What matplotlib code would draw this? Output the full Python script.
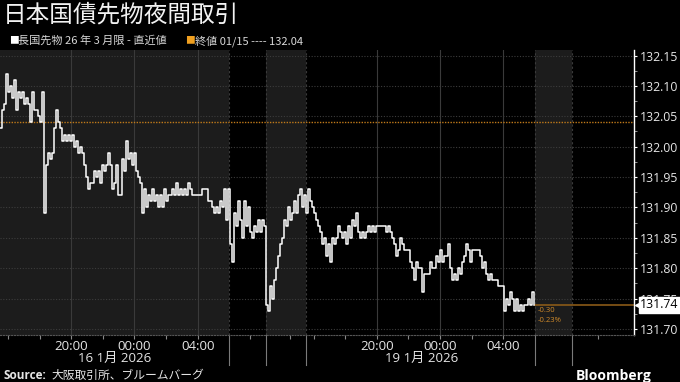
import numpy as np
import matplotlib
matplotlib.use("Agg")
import matplotlib.pyplot as plt
from matplotlib.ticker import FixedLocator, MultipleLocator

plt.rcParams["font.family"] = ["Open Sans", "Noto Sans CJK JP", "DejaVu Sans"]

# JGB 10y futures (Mar 2026 contract), night session, sampled every ~7.6 min
prices = [
    132.03, 132.06, 132.07, 132.12, 132.09, 132.10, 132.08, 132.11, 132.06, 132.09,
    132.08, 132.09, 132.07, 132.08, 132.07, 132.04, 132.09, 132.06, 132.06, 132.05,
    132.04, 132.09, 131.89, 131.97, 131.99, 131.98, 131.99, 132.03, 132.06, 132.04,
    132.03, 132.01, 132.02, 132.01, 132.02, 132.01, 132.02, 132.00, 132.01, 131.99,
    132.00, 131.99, 131.97, 131.95, 131.93, 131.94, 131.94, 131.96, 131.95, 131.96,
    131.94, 131.97, 131.96, 131.97, 131.99, 131.97, 131.93, 131.94, 131.97, 131.92,
    131.92, 131.98, 131.96, 132.01, 131.98, 131.99, 131.97, 131.99, 131.96, 131.95,
    131.94, 131.89, 131.93, 131.90, 131.92, 131.91, 131.93, 131.91, 131.92, 131.90,
    131.92, 131.90, 131.93, 131.91, 131.92, 131.92, 131.93, 131.92, 131.94, 131.92,
    131.93, 131.92, 131.93, 131.92, 131.94, 131.93, 131.92, 131.92, 131.92, 131.92,
    131.92, 131.93, 131.93, 131.93, 131.91, 131.91, 131.90, 131.89, 131.90, 131.89,
    131.91, 131.90, 131.93, 131.88, 131.93, 131.84, 131.81, 131.89, 131.87, 131.91,
    131.88, 131.85, 131.91, 131.87, 131.90, 131.86, 131.85, 131.87, 131.86, 131.88,
    131.86, 131.88, 131.87, 131.74, 131.73, 131.77, 131.75, 131.78, 131.80, 131.82,
    131.84, 131.85, 131.88, 131.87, 131.90, 131.88, 131.89, 131.91, 131.89, 131.92,
    131.93, 131.90, 131.92, 131.89, 131.93, 131.91, 131.90, 131.89, 131.88, 131.87,
    131.86, 131.84, 131.85, 131.82, 131.84, 131.81, 131.85, 131.84, 131.85, 131.87,
    131.86, 131.85, 131.86, 131.84, 131.87, 131.85, 131.88, 131.87, 131.89, 131.86,
    131.85, 131.86, 131.85, 131.86, 131.87, 131.86, 131.87, 131.86, 131.87, 131.87,
    131.87, 131.87, 131.87, 131.86, 131.87, 131.86, 131.85, 131.84, 131.82, 131.83,
    131.85, 131.84, 131.83, 131.83, 131.83, 131.81, 131.80, 131.78, 131.81, 131.80,
    131.80, 131.76, 131.79, 131.79, 131.79, 131.81, 131.80, 131.80, 131.82, 131.81,
    131.83, 131.81, 131.82, 131.82, 131.84, 131.80, 131.78, 131.79, 131.78, 131.80,
    131.79, 131.81, 131.82, 131.84, 131.83, 131.81, 131.83, 131.83, 131.83, 131.83,
    131.82, 131.80, 131.81, 131.79, 131.78, 131.79, 131.78, 131.78, 131.78, 131.77,
    131.77, 131.77, 131.73, 131.75, 131.74, 131.76, 131.75, 131.73, 131.75, 131.73,
    131.74, 131.73, 131.74, 131.74, 131.75, 131.74, 131.76, 131.74,
]
prev_close = 132.04
last = prices[-1]

# time axis in hours from 15:30 on Jan 15 (compressed between sessions)
step_h = 2 / 15.8
t = np.arange(len(prices)) * step_h

grey_spans = [(0, 14.5), (16.8, 19.33), (33.83, 36.2)]
boundaries = [14.5, 16.8, 19.33, 33.83, 36.2]
hour_ticks = [4.5, 8.5, 12.5, 23.83, 27.83, 31.83]
hour_labels = ["20:00", "00:00", "04:00", "20:00", "00:00", "04:00"]
date_pos = [7.28, 26.65]
date_labels = ["16 1月 2026", "19 1月 2026"]
minor_x = [0.5, 2.5, 6.5, 10.5, 15.8, 18.35, 19.83, 21.83, 25.83, 29.83, 37.8]

fig = plt.figure(figsize=(6.8, 3.82), dpi=100, facecolor="black")
ax = fig.add_axes([0.0, 0.123, 0.9324, 0.746])
ax.set_facecolor("black")

for a, b in grey_spans:
    ax.axvspan(a, b, color="#1c1c1c", lw=0, zorder=0)

ax.set_xlim(0, 40.1)
ax.set_ylim(131.690, 132.159)

ax.yaxis.set_major_locator(MultipleLocator(0.05))
ax.yaxis.set_minor_locator(MultipleLocator(0.025))
ax.grid(axis="y", which="major", color="#3c3c3c", ls=(0, (1, 1.5)), lw=0.8, zorder=1)
for x in hour_ticks:
    ax.axvline(x, color="#3a3a3a", lw=0.8, zorder=1)
for x in boundaries:
    ax.axvline(x, color="#3a3a3a", lw=0.8, ls=(0, (2, 2)), zorder=1)
    ax.plot([x, x], [-0.105, 0], transform=ax.get_xaxis_transform(),
            color="#7a7a7a", lw=0.8, clip_on=False)

ax.axhline(prev_close, color="#c07a1a", lw=1.0, ls=(0, (1, 1)), zorder=2)
ax.hlines(last, t[-1], 40.1, color="#8a5a18", lw=1.2, zorder=2)

ax.step(t, prices, where="post", color="white", lw=1.1, zorder=3)

ax.text(t[-1] + 0.2, last - 0.004, "-0.30", color="#d08a2a", fontsize=5.5, va="top")
ax.text(t[-1] + 0.2, last - 0.020, "-0.23%", color="#d08a2a", fontsize=5.5, va="top")

# axes styling
for s in ["left", "top"]:
    ax.spines[s].set_visible(False)
ax.spines["right"].set_color("white")
ax.spines["right"].set_linewidth(1.0)
ax.spines["bottom"].set_color("#555555")
ax.spines["bottom"].set_linestyle((0, (1, 1.5)))
ax.yaxis.tick_right()
ax.tick_params(axis="y", which="major", colors="white", labelcolor="#e6e6e6",
               labelsize=8.8, length=2.5, width=0.8, pad=1.5)
ax.tick_params(axis="y", which="minor", colors="#aaaaaa", length=2, width=0.6)
ax.yaxis.set_major_formatter(plt.FuncFormatter(lambda v, p: f"{v:.2f}"))

ax.xaxis.set_major_locator(FixedLocator(hour_ticks))
ax.xaxis.set_minor_locator(FixedLocator(minor_x))
ax.set_xticklabels(hour_labels)
ax.tick_params(axis="x", which="major", colors="#888888", labelcolor="#e6e6e6",
               labelsize=9.5, length=3, width=0.8, pad=0.5)
ax.tick_params(axis="x", which="minor", colors="#888888", length=3, width=0.8)

for x, lab in zip(date_pos, date_labels):
    ax.text(x, -0.06, lab, transform=ax.get_xaxis_transform(), ha="center",
            va="top", color="#e6e6e6", fontsize=9.5,
            family=["Open Sans", "Noto Sans CJK JP"])

# last price tag on the axis
ax.plot([1.006], [last], transform=ax.get_yaxis_transform(), marker="<",
        color="white", markersize=5, clip_on=False, zorder=5)
ax.annotate(f"{last:.2f}", xy=(1.0, last), xycoords=("axes fraction", "data"),
            xytext=(4.5, 0), textcoords="offset points", va="center", ha="left",
            fontsize=8.8, color="black", zorder=6,
            bbox=dict(boxstyle="square,pad=0.12", fc="white", ec="white"))

# header
fig.text(0.004, 0.96, "日本国債先物夜間取引", color="#f2f2f2", fontsize=17,
         family=["Noto Sans CJK JP"], va="center", ha="left")
fig.text(0.013, 0.893, "■", color="white", fontsize=7, va="center")
fig.text(0.027, 0.893, "長国先物 26 年 3 月限 - 直近値", color="#d8d8d8",
         fontsize=8, va="center", family=["Noto Sans CJK JP"])
fig.text(0.272, 0.893, "■", color="#f0a020", fontsize=7, va="center")
fig.text(0.287, 0.893, "終値 01/15 ---- 132.04", color="#d8d8d8",
         fontsize=8, va="center", family=["Noto Sans CJK JP"])

# footer
fig.text(0.005, 0.016, "Source:", color="#e6e6e6", fontsize=8.5,
         fontweight="bold", va="center")
fig.text(0.075, 0.016, "大阪取引所、ブルームバーグ", color="#e6e6e6", fontsize=8.5,
         va="center", family=["Noto Sans CJK JP"])
fig.text(0.958, 0.016, "Bloomberg", color="white", fontsize=10,
         fontweight="bold", va="center", ha="right")

fig.savefig("out.png", dpi=100, facecolor="black")
